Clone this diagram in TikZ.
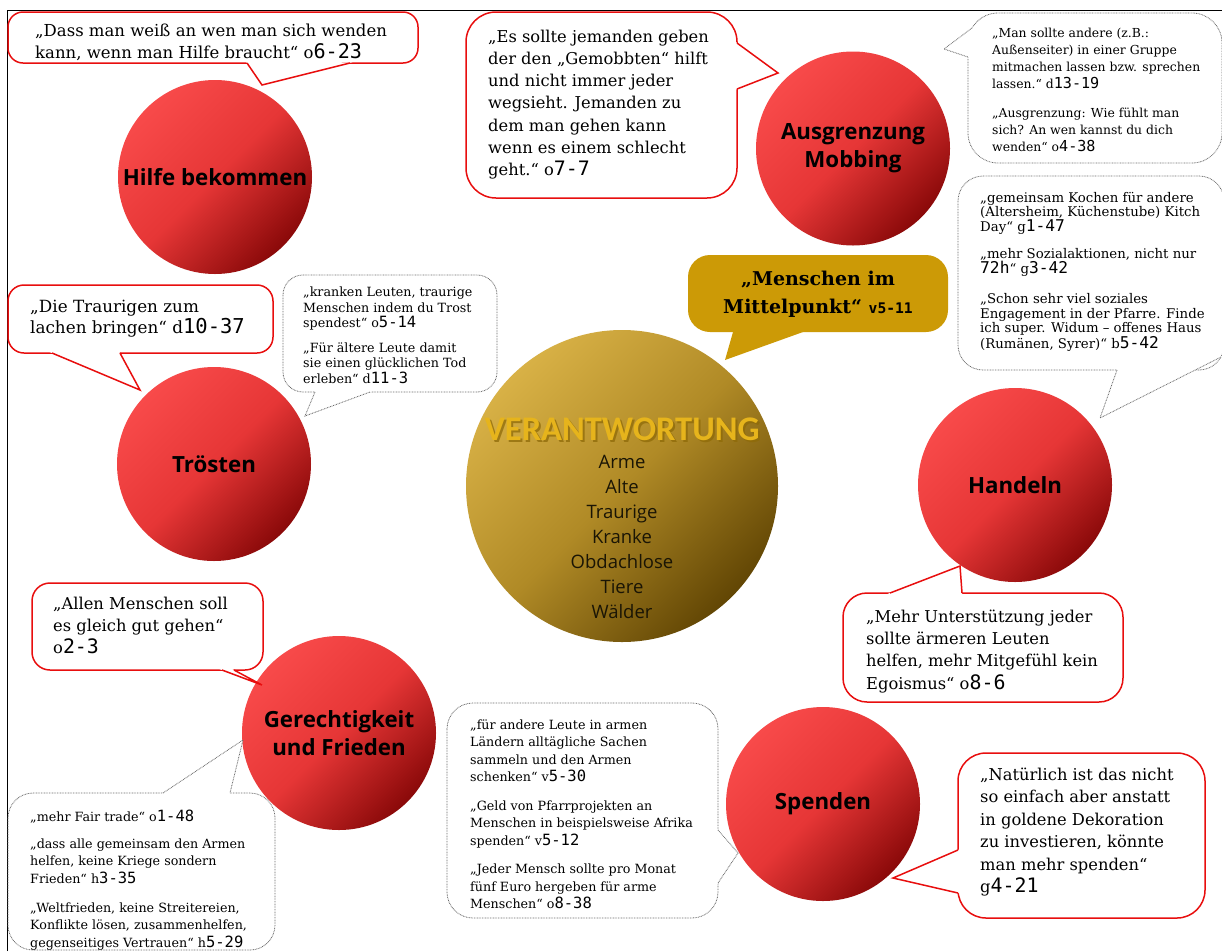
\documentclass[tikz,border=0pt]{standalone}
\usepackage{fontspec}
\usetikzlibrary{calc}
\setmainfont{DejaVu Serif}
\newfontfamily\codefont[Scale=1.22]{DejaVu Sans Mono}
\newfontfamily\labelfont{Open Sans}
\newfontfamily\titlefont{Carlito}
\newcommand\cd[1]{{\codefont #1}}

\definecolor{bubblered}{HTML}{E80E0E}
\definecolor{dotgrey}{HTML}{6A6A6A}
\definecolor{mpgold}{HTML}{CC9A06}
\definecolor{redlight}{HTML}{F84A4A}
\definecolor{redmid}{HTML}{E63636}
\definecolor{reddark}{HTML}{8A0909}
\definecolor{goldlight}{HTML}{D8B146}
\definecolor{goldmid}{HTML}{B08A26}
\definecolor{golddark}{HTML}{624604}
\definecolor{titlegold}{HTML}{E6B41C}
\definecolor{titleshade}{HTML}{8E6A08}
\definecolor{listink}{HTML}{1A1505}

% speech bubble: rounded box plus a pointed tail (base1 -- tip -- base2)
\newcommand\callout[8][white]{%
  \draw[#2,fill=#1,rounded corners=#5] #3 rectangle #4;
  \fill[#1] ($#6!-2.5pt!#7$) -- #7 -- ($#8!-2.5pt!#7$) -- cycle;
  \draw[#2] #6 -- #7 -- #8;
}

\tikzset{
  frameline/.style={line width=1pt, black},
  redcall/.style={draw=bubblered, line width=1.5pt, line join=miter},
  dotcall/.style={draw=dotgrey, line width=0.8pt, dash pattern=on 0.8pt off 0.8pt},
  topic/.style={circle, minimum size=194pt, inner sep=0pt, align=center,
    top color=redlight, bottom color=reddark, middle color=redmid, shading angle=45,
    font=\labelfont\bfseries\fontsize{22.3}{28}\selectfont, text=black},
  hub/.style={circle, minimum size=312pt, inner sep=0pt,
    top color=goldlight, bottom color=golddark, middle color=goldmid, shading angle=45},
  bigquote/.style={anchor=north west, inner sep=0pt, align=left,
    font=\fontsize{16.3}{22.5}\selectfont},
  smallquote/.style={anchor=north west, inner sep=0pt, align=left,
    font=\fontsize{12.7}{#1}\selectfont},
}

\begin{document}
\begin{tikzpicture}[x=1pt,y=-1pt]
\useasboundingbox (0,0) rectangle (1222,951);
\clip (0,0) rectangle (1222,951);
\fill[white] (0,0) rectangle (1222,951);

% page frame
\coordinate (fbl) at (7,951);
\coordinate (ftl) at (7,10);
\coordinate (ftr) at (1222,10);
\draw[frameline] (fbl) -- (ftl) -- (ftr);

% central topic
\node[hub] (hub) at (622,486) {};
\node[font=\titlefont\bfseries\fontsize{34.5}{36}\selectfont, text=titleshade, opacity=0.75]
  (titleshade) at (624,431.5) {VERANTWORTUNG};
\node[font=\titlefont\bfseries\fontsize{34.5}{36}\selectfont, text=titlegold]
  (title) at (622,429.5) {VERANTWORTUNG};
\node[font=\labelfont\fontsize{18.5}{25.1}\selectfont, align=center, text=listink, inner sep=0pt]
  (groups) at (622,537) {Arme\\Alte\\Traurige\\Kranke\\Obdachlose\\Tiere\\Wälder};

% surrounding topics
\node[topic] (hilfe) at (215,177) {Hilfe bekommen};
\node[topic] (mobbing) at (853,148.5) {Ausgrenzung\\Mobbing};
\node[topic] (troesten) at (214,464) {Tr\"osten};
\node[topic] (handeln) at (1015,485) {Handeln};
\node[topic] (gerecht) at (339,733) {Gerechtigkeit\\und Frieden};
\node[topic] (spenden) at (823,804) {Spenden};

% Hilfe bekommen
\callout{redcall}{(8,12)}{(418,63)}{15}{(247,63)}{(262,85)}{(350,63)}
\node[bigquote, font=\fontsize{16.5}{22.5}\selectfont] (qa) at (35,23.5) {„Dass man weiß an wen man sich wenden\\kann, wenn man Hilfe braucht“ o\cd{6-23}};

% Ausgrenzung / Mobbing
\callout{redcall}{(466,12)}{(737,198)}{30}{(737,43)}{(778,73)}{(737,89)}
\node[bigquote, font=\fontsize{16.3}{22.3}\selectfont] (qb) at (488,29.5)
  {„Es sollte jemanden geben\\der den „Gemobbten“ hilft\\und nicht immer jeder\\wegsieht. Jemanden zu\\dem man gehen kann\\wenn es einem schlecht\\geht.“ o\cd{7-7}};

\callout{dotcall}{(968,13)}{(1222,163)}{30}{(972,28)}{(944,49)}{(968,57)}
\node[smallquote=17, font=\fontsize{12.4}{17}\selectfont] (qc) at (992,27.5)
  {„Man sollte andere (z.B.:\\Außenseiter) in einer Gruppe\\mitmachen lassen bzw. sprechen\\lassen.“ d\cd{13-19}\\[12pt]„Ausgrenzung: Wie fühlt man\\sich? An wen kannst du dich\\wenden“ o\cd{4-38}};

% Handeln
\callout{dotcall}{(958,176)}{(1224,370)}{25}{(1117,370)}{(1100,418)}{(1221,357)}
\node[smallquote=14.5, font=\fontsize{13.3}{14.5}\selectfont] (qd) at (980,192)
  {„gemeinsam Kochen für andere\\(Altersheim, Küchenstube) Kitch\\Day“ g\cd{1-47}\\[13pt]„mehr Sozialaktionen, nicht nur\\\cd{72h}“ g\cd{3-42}\\[16pt]„Schon sehr viel soziales\\Engagement in der Pfarre. Finde\\ich super. Widum – offenes Haus\\(Rumänen, Syrer)“ b\cd{5-42}};

\callout{redcall}{(843,593)}{(1123,702)}{24}{(890,593)}{(960,566)}{(962,593)}
\node[bigquote, font=\fontsize{16.3}{22.3}\selectfont] (qk) at (866,609.5)
  {„Mehr Unterstützung jeder\\sollte ärmeren Leuten\\helfen, mehr Mitgefühl kein\\Egoismus“ o\cd{8-6}};

% Menschen im Mittelpunkt
\callout[mpgold]{draw=none}{(688,255)}{(948,332)}{22}{(733,332)}{(725,360)}{(803,332)}
\node[anchor=north, inner sep=0pt, align=center, font=\bfseries\fontsize{19}{28}\selectfont]
  (qg) at (818,270.5) {„Menschen im\\Mittelpunkt“ {\codefont\bfseries\fontsize{12}{12}\selectfont v5-11}};

% Trösten
\callout{redcall}{(8,285)}{(273,353)}{16}{(52,353)}{(140,390)}{(120,353)}
\node[bigquote, font=\fontsize{16.8}{21.5}\selectfont] (qf) at (30,299.5)
  {„Die Traurigen zum\\lachen bringen“ d\cd{10-37}};

\callout{dotcall}{(283,275)}{(497,392)}{20}{(315,392)}{(305,416)}{(370,392)}
\node[smallquote=15.5] (qe) at (303,287)
  {„kranken Leuten, traurige\\Menschen indem du Trost\\spendest“ o\cd{5-14}\\[9pt]„Für ältere Leute damit\\sie einen glücklichen Tod\\erleben“ d\cd{11-3}};

% Gerechtigkeit und Frieden
\callout{redcall}{(32,583)}{(263,670)}{18}{(222,670)}{(262,685)}{(234,670)}
\node[bigquote, font=\fontsize{16.3}{22}\selectfont] (qh) at (53,596.5)
  {„Allen Menschen soll\\es gleich gut gehen“\\o\cd{2-3}};

\callout{dotcall}{(8,793)}{(275,950)}{25}{(163,793)}{(243,740)}{(230,793)}
\node[smallquote=17.3] (qi) at (30,809.5)
  {„mehr Fair trade“ o\cd{1-48}\\[10pt]„dass alle gemeinsam den Armen\\helfen, keine Kriege sondern\\Frieden“ h\cd{3-35}\\[12pt]„Weltfrieden, keine Streitereien,\\Konflikte lösen, zusammenhelfen,\\gegenseitiges Vertrauen“ h\cd{5-29}};

% Spenden
\callout{dotcall}{(447,703)}{(718,918)}{26}{(718,830)}{(738,853)}{(718,883)}
\node[smallquote=17.4] (qj) at (470,719.5)
  {„für andere Leute in armen\\Ländern alltägliche Sachen\\sammeln und den Armen\\schenken“ v\cd{5-30}\\[11.5pt]„Geld von Pfarrprojekten an\\Menschen in beispielsweise Afrika\\spenden“ v\cd{5-12}\\[11pt]„Jeder Mensch sollte pro Monat\\fünf Euro hergeben für arme\\Menschen“ o\cd{8-38}};

\callout{redcall}{(958,753)}{(1205,918)}{28}{(958,850)}{(893,878)}{(958,893)}
\node[bigquote] (ql) at (980,767.5)
  {„Natürlich ist das nicht\\so einfach aber anstatt\\in goldene Dekoration\\zu investieren, könnte\\man mehr spenden“\\g\cd{4-21}};

\end{tikzpicture}
\end{document}
